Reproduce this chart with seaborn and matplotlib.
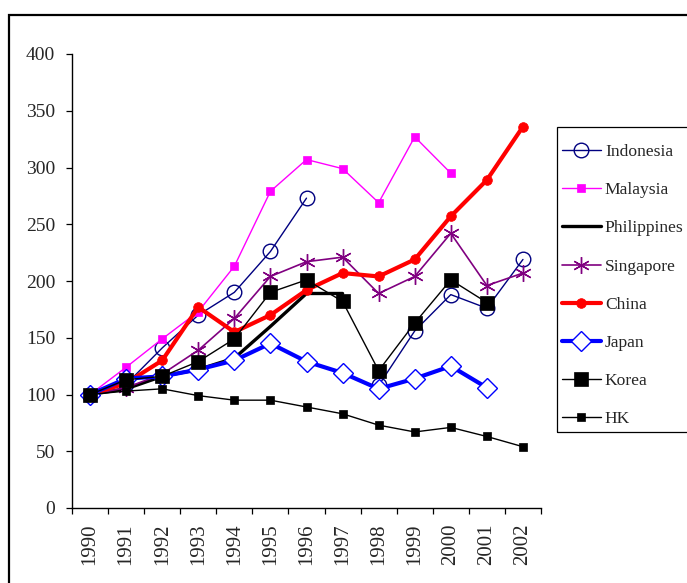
import numpy as np
import pandas as pd
import matplotlib
matplotlib.use("Agg")
import matplotlib.pyplot as plt
import seaborn as sns
from matplotlib.patches import Rectangle
from matplotlib.lines import Line2D

nan = np.nan
years = [1990, 1991, 1992, 1993, 1994, 1995, 1996, 1997, 1998, 1999, 2000, 2001, 2002]
indonesia = [100, 109, 141, 170, 190, 226, 273, nan, 108, 156, 188, 176, 219]
malaysia = [100, 124, 149, 173, 213, 279, 307, 299, 269, 327, 295, nan, nan]
philippines = [100, 105, 116, 122, 132, 160, 189, 189, nan, nan, nan, nan, nan]
singapore = [100, 106, 118, 139, 167, 204, 217, 221, 189, 204, 242, 196, 207]
china = [100, 110, 130, 177, 155, 170, 192, 207, 204, 219, 257, 289, 336]
japan = [100, 114, 116, 122, 130, 145, 129, 119, 105, 114, 125, 106, nan]
korea = [100, 113, 116, 129, 149, 190, 201, 182, 121, 163, 201, 181, nan]
hk = [100, 103, 105, 99, 95, 95, 89, 83, 73, 67, 71, 63, 54]

names = ["Indonesia", "Malaysia", "Philippines", "Singapore", "China", "Japan", "Korea", "HK"]
values = [indonesia, malaysia, philippines, singapore, china, japan, korea, hk]

styles = {
    "Indonesia": dict(color="#000080", linewidth=1.0, marker="o", markersize=10.5,
                      markerfacecolor="none", markeredgecolor="#000080", markeredgewidth=1.0),
    "Malaysia": dict(color="#FF00FF", linewidth=1.0, marker="s", markersize=6,
                     markerfacecolor="#FF00FF", markeredgecolor="#FF00FF", markeredgewidth=0.5),
    "Philippines": dict(color="black", linewidth=2.4, marker=None),
    "Singapore": dict(color="#800080", linewidth=1.2, marker=(6, 2, 0), markersize=12,
                      markerfacecolor="#800080", markeredgecolor="#800080", markeredgewidth=1.0),
    "China": dict(color="#FF0000", linewidth=3.0, marker="o", markersize=7,
                  markerfacecolor="#FF0000", markeredgecolor="#FF0000", markeredgewidth=0.5),
    "Japan": dict(color="#0000FF", linewidth=3.0, marker="D", markersize=10,
                  markerfacecolor="white", markeredgecolor="#0000FF", markeredgewidth=1.0),
    "Korea": dict(color="black", linewidth=1.0, marker="s", markersize=10,
                  markerfacecolor="black", markeredgecolor="black", markeredgewidth=0.5),
    "HK": dict(color="black", linewidth=1.0, marker="s", markersize=6,
               markerfacecolor="black", markeredgecolor="black", markeredgewidth=0.5),
}

sns.set_style("ticks")
plt.rcParams["font.family"] = ["Liberation Serif", "DejaVu Serif"]

fig = plt.figure(figsize=(6.87, 5.83), dpi=100)
ax = fig.add_axes([72 / 687, 1 - 508 / 583, (541 - 72) / 687, (508 - 54) / 583])

for name, vals in zip(names, values):
    df = pd.DataFrame({"year": years, "value": vals})
    df["seg"] = df["value"].isna().cumsum()
    df = df.dropna()
    st = dict(styles[name])
    if st.get("marker") is None:
        st.pop("marker")
    sns.lineplot(data=df, x="year", y="value", units="seg", estimator=None,
                 sort=False, ax=ax, legend=False, **st)

ax.set_xlim(1989.5, 2002.5)
ax.set_ylim(0, 400)
ax.set_yticks(np.arange(0, 401, 50))
ax.set_xticks(years)
ax.set_xticklabels([str(y) for y in years], rotation=90)
ax.set_xticks(np.arange(1989.5, 2003, 1.0), minor=True)
ax.tick_params(axis="x", which="major", length=0, pad=11, labelsize=15)
ax.tick_params(axis="x", which="minor", length=4, width=0.9, direction="out", color="black")
ax.tick_params(axis="y", length=4, width=0.9, direction="out", pad=8, labelsize=14, color="black")
ax.set_xlabel("")
ax.set_ylabel("")
sns.despine(ax=ax)
for sp in ("left", "bottom"):
    ax.spines[sp].set_linewidth(1.0)
    ax.spines[sp].set_color("black")

handles = []
for name in names:
    st = dict(styles[name])
    handles.append(Line2D([], [], **st))
fig.legend(handles, names, loc="upper left",
           bbox_to_anchor=(562 / 687, 1 - 144 / 583), frameon=False,
           borderpad=0, borderaxespad=0, handlelength=2.2, handletextpad=0.25,
           labelspacing=1.25, fontsize=12.6)

fig.add_artist(Rectangle((556.7 / 687, 1 - 431.7 / 583), 0.3, (431.7 - 127.3) / 583,
                         transform=fig.transFigure, fill=False, edgecolor="black",
                         linewidth=0.9, clip_on=False))
fig.add_artist(Rectangle((8.5 / 687, -0.05), 1.2, 1.05 - 14.5 / 583,
                         transform=fig.transFigure, fill=False, edgecolor="black",
                         linewidth=1.6, clip_on=False))

fig.savefig("out.png", dpi=100)
